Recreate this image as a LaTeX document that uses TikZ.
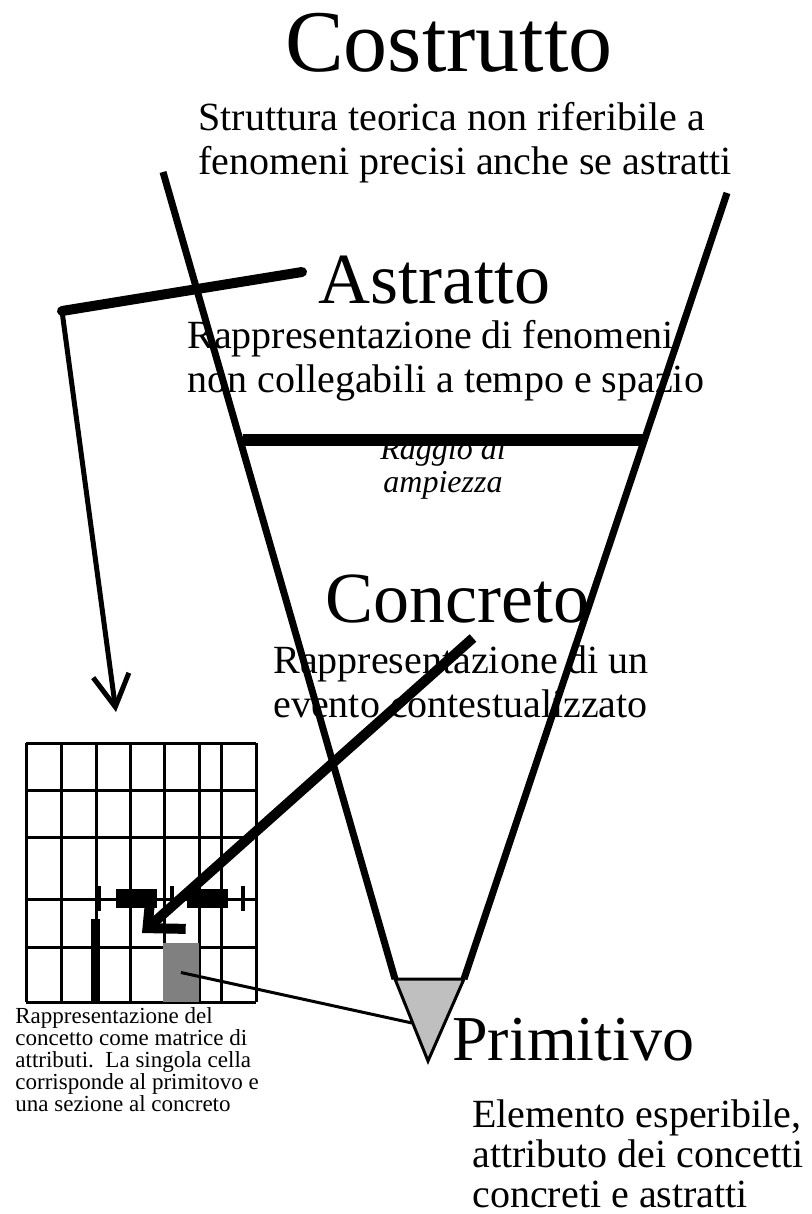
\documentclass[tikz,border=0pt]{standalone}
\usepackage{fontspec}
\setmainfont{Liberation Serif}
\usetikzlibrary{arrows.meta,positioning}

\begin{document}
\begin{tikzpicture}[
  x=0.5pt, y=-0.5pt,
  titolo/.style={inner sep=0pt, font=\fontsize{36}{40}\selectfont},
  descr/.style={inner sep=0pt, align=left, font=\fontsize{20}{22}\selectfont},
  raggio/.style={inner sep=0pt, align=center, font=\fontsize{16}{16.5}\selectfont\itshape},
  nota/.style={inner sep=0pt, align=left, font=\fontsize{11.5}{11}\selectfont},
  imbuto/.style={line width=3.5pt},
  griglia/.style={line width=1.5pt},
  cella/.style={fill=black!50, inner sep=0pt, minimum width=18pt, minimum height=29.5pt},
  freccia/.style={line width=5pt, -{Straight Barb[length=14pt,width=26pt]}}
]
\useasboundingbox (0,0) rectangle (811,1214);

% testi
\node[titolo, font=\fontsize{44}{48}\selectfont, anchor=base] (costrutto) at (449,72) {Costrutto};
\node[descr, anchor=base west] (struttura) at (198,175) {Struttura teorica non riferibile a\\fenomeni precisi anche se astratti};
\node[titolo, anchor=base west] (astratto) at (318,303) {Astratto};
\node[descr, anchor=base west] (rappastr) at (187,392) {Rappresentazione di fenomeni\\non collegabili a tempo e spazio};
\node[raggio, anchor=base] (raggio) at (443,492) {Raggio di\\ampiezza};
\node[titolo, anchor=base west] (concreto) at (325,622) {Concreto};
\node[descr, anchor=base west] (rappconc) at (273,717) {Rappresentazione di un\\evento contestualizzato};
\node[titolo, font=\fontsize{32}{36}\selectfont, anchor=base west] (primitivo) at (452,1060) {Primitivo};
\node[descr, font=\fontsize{20}{20}\selectfont, anchor=base west] (elemento) at (472,1207) {Elemento esperibile,\\attributo dei concetti\\concreti e astratti};
\node[nota, anchor=base west] (nota) at (15,1111) {Rappresentazione del\\concetto come matrice di\\attributi.\ \ La singola cella\\corrisponde al primitovo e\\una sezione al concreto};

% imbuto
\draw[line width=1.5pt, fill=black!25] (395,979) coordinate (tA) -- (464,979) coordinate (tB) -- (428,1061) coordinate (tC) -- cycle;
\coordinate (lato) at (412,1023);
\draw[imbuto] (163,172) -- (tA);
\draw[imbuto] (727,193) -- (tB);
\draw[line width=6pt] (243,440) -- (645,440);

% matrice
\foreach \x in {26,61,96,130,164,199,221,256}
  \draw[griglia] (\x,743) -- (\x,1002);
\foreach \y in {743,790,837,899,947,1002}
  \draw[griglia] (26,\y) -- (256,\y);
\fill (116,889) rectangle (157,908);
\fill (187,889) rectangle (228,908);
\foreach \x in {99,172,243}
  \draw[line width=2pt] (\x,886) -- (\x,911);
\fill (91,919) rectangle (100,1002);
\node[cella] (cella) at (181,972.5) {};
\draw[line width=1.5pt] (cella.center) -- (lato);

% frecce
\coordinate (a0) at (302,272);
\coordinate (a1) at (62,311);
\coordinate (a2) at (116,712);
\draw[line width=5pt, line cap=round] (a0) -- (a1);
\draw[line width=2.5pt, -{Straight Barb[length=16pt,width=18pt]}] (a1) -- (a2);
\coordinate (c0) at (473,638);
\coordinate (c1) at (142,933);
\draw[freccia] (c0) -- (c1);
\end{tikzpicture}
\end{document}
